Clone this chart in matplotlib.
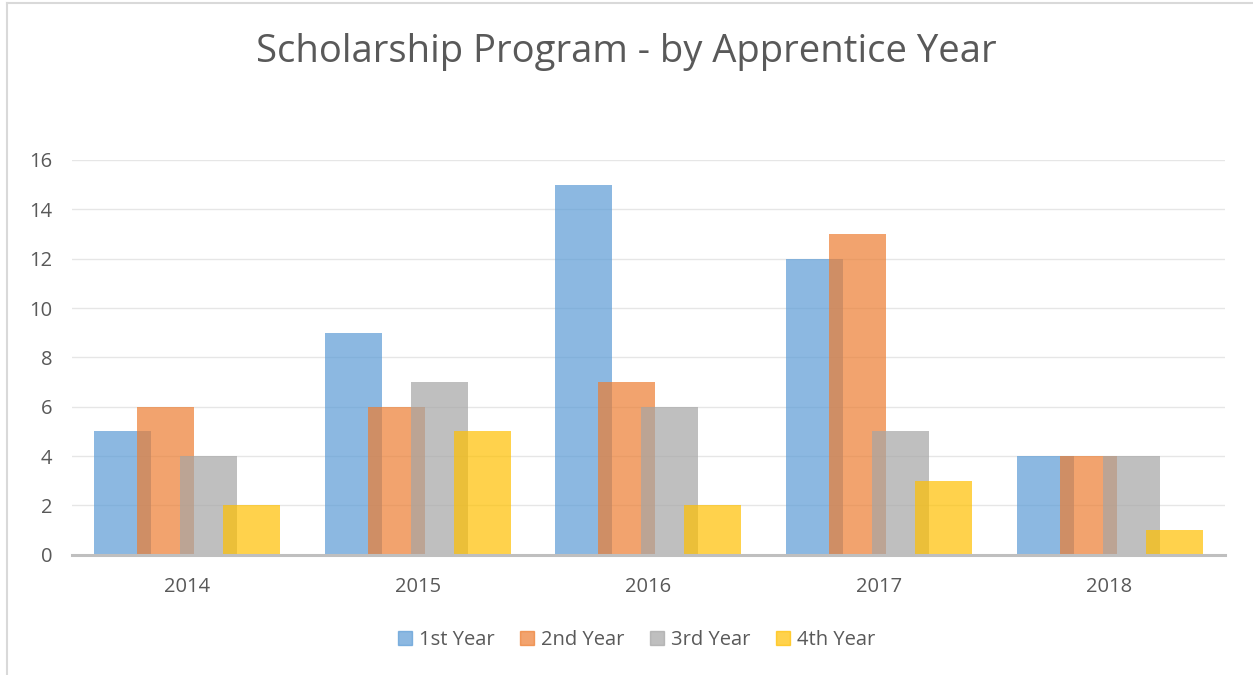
import matplotlib.pyplot as plt
import numpy as np
from matplotlib.lines import Line2D

years = ["2014", "2015", "2016", "2017", "2018"]
series = ["1st Year", "2nd Year", "3rd Year", "4th Year"]
first = [5, 9, 15, 12, 4]
second = [6, 6, 7, 13, 4]
third = [4, 7, 6, 5, 4]
fourth = [2, 5, 2, 3, 1]
colors = ["#5B9BD5", "#ED7D31", "#A5A5A5", "#FFC000"]

plt.rcParams['font.family'] = ['Open Sans', 'DejaVu Sans']
txt = "#595959"

fig = plt.figure(figsize=(12.53, 6.75), dpi=100)
ax = fig.add_axes([0.0575, 0.178, 0.92, 0.585])

x = np.arange(len(years))
step = 0.1865
width = 0.247
for i, vals in enumerate([first, second, third, fourth]):
    ax.bar(x + (i - 1.5) * step, vals, width=width, color=colors[i], alpha=0.7,
           label=series[i], zorder=3)

ax.set_xlim(-0.5, len(years) - 0.5)
ax.set_ylim(0, 16)
ax.set_yticks(range(0, 17, 2))
ax.set_xticks(x)
ax.set_xticklabels(years)
ax.grid(axis='y', color="#E6E6E6", linewidth=1, zorder=0)
for s in ['top', 'right', 'left']:
    ax.spines[s].set_visible(False)
ax.spines['bottom'].set_color("#BFBFBF")
ax.spines['bottom'].set_linewidth(2.2)
ax.spines['bottom'].set_zorder(4)
ax.tick_params(axis='both', length=0, labelsize=14.5, labelcolor=txt)
ax.tick_params(axis='x', pad=16)
ax.tick_params(axis='y', pad=14)

fig.text(0.5, 0.923, "Scholarship Program - by Apprentice Year", ha='center', va='center',
         fontsize=27.5, color=txt)

handles = [Line2D([], [], marker='s', linestyle='none', markersize=10.5,
                  markerfacecolor=c, markeredgecolor=c, alpha=0.7) for c in colors]
fig.legend(handles, series, loc='center', bbox_to_anchor=(0.508, 0.052), ncol=4,
           frameon=False, fontsize=14.5, labelcolor=txt, handlelength=0.7,
           handletextpad=0.35, columnspacing=1.25)

# chart area border (left and top edges visible)
fig.add_artist(Line2D([0.0055, 0.0055], [0, 0.996], transform=fig.transFigure,
                      color="#D9D9D9", linewidth=1.5))
fig.add_artist(Line2D([0.0055, 1], [0.996, 0.996], transform=fig.transFigure,
                      color="#D9D9D9", linewidth=1.5))

fig.savefig("out.png", dpi=100)
